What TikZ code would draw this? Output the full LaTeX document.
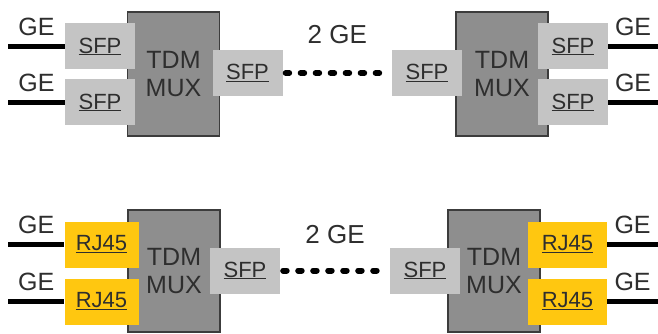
\documentclass[tikz,border=0pt]{standalone}
\usepackage{fontspec}
\setmainfont{Liberation Sans}
\definecolor{muxgray}{HTML}{8E8E8E}
\definecolor{muxline}{HTML}{3C3C3C}
\definecolor{sfpgray}{HTML}{C4C4C4}
\definecolor{rjyellow}{HTML}{FFC710}
\definecolor{txt}{HTML}{2E2E2E}
\newcommand{\fsz}[1]{\fontsize{#1}{#1}\selectfont}
\begin{document}
\begin{tikzpicture}[x=1pt, y=-1pt,
    mux/.style={draw=muxline, line width=1.5pt, fill=muxgray, inner sep=0pt,
      minimum width=92pt, minimum height=124pt, align=center, text=txt,
      font=\fontsize{25}{28}\selectfont},
    port/.style={fill=sfpgray, inner sep=0pt, minimum width=70pt,
      minimum height=46pt, text=txt, font=\fsz{22}},
    rjport/.style={port, fill=rjyellow, minimum width=74pt},
    geline/.style={line width=4.5pt, black},
    link/.style={line width=6pt, black, line cap=round,
      dash pattern=on 3.5pt off 11.5pt, shorten <=3pt, shorten >=3pt},
    lbl/.style={text=txt, font=\fsz{25}}]
  \useasboundingbox (0,0) rectangle (658,334);

  % upper row: SFP on both sides
  \node[mux, minimum height=124pt] (muxA) at (173.5,74) {TDM\\MUX};
  \node[mux, minimum height=124pt] (muxB) at (502,74) {TDM\\MUX};
  \node[port] (sfpA1) at (100,46.5) {\underline{SFP}};
  \node[port] (sfpA2) at (100,102.5) {\underline{SFP}};
  \node[port] (sfpA3) at (247.5,73) {\underline{SFP}};
  \node[port] (sfpB3) at (427,73) {\underline{SFP}};
  \node[port] (sfpB1) at (573,46.5) {\underline{SFP}};
  \node[port] (sfpB2) at (573,102.5) {\underline{SFP}};

  % lower row: RJ45 on the GE side
  \node[mux, minimum height=122pt] (muxC) at (174,271) {TDM\\MUX};
  \node[mux, minimum height=122pt] (muxD) at (494,271) {TDM\\MUX};
  \node[rjport] (rjC1) at (101.5,244.5) {\underline{RJ45}};
  \node[rjport] (rjC2) at (101.5,301.5) {\underline{RJ45}};
  \node[port] (sfpC3) at (245,270.5) {\underline{SFP}};
  \node[port] (sfpD3) at (425,270.5) {\underline{SFP}};
  \node[rjport, minimum width=79pt] (rjD1) at (567.5,244.5) {\underline{RJ45}};
  \node[rjport, minimum width=79pt] (rjD2) at (567.5,301.5) {\underline{RJ45}};

  % GE tails
  \foreach \p/\y in {sfpA1/46.5, sfpA2/102.5, rjC1/244.5, rjC2/301.5} {
    \coordinate (in-\p) at (8,\y);
    \draw[geline] (in-\p) -- (\p) node[lbl, midway, above=5pt] {GE};
  }
  \foreach \p/\y in {sfpB1/46.5, sfpB2/102.5, rjD1/244.5, rjD2/301.5} {
    \coordinate (out-\p) at (658,\y);
    \draw[geline] (\p) -- (out-\p) node[lbl, midway, above=5pt] {GE};
  }

  % 2 GE trunks
  \draw[link] (sfpA3) -- (sfpB3) node[lbl, midway, above=23pt, font=\fsz{26}] {2 GE};
  \draw[link] (sfpC3) -- (sfpD3) node[lbl, midway, above=20pt, font=\fsz{26}] {2 GE};
\end{tikzpicture}
\end{document}
